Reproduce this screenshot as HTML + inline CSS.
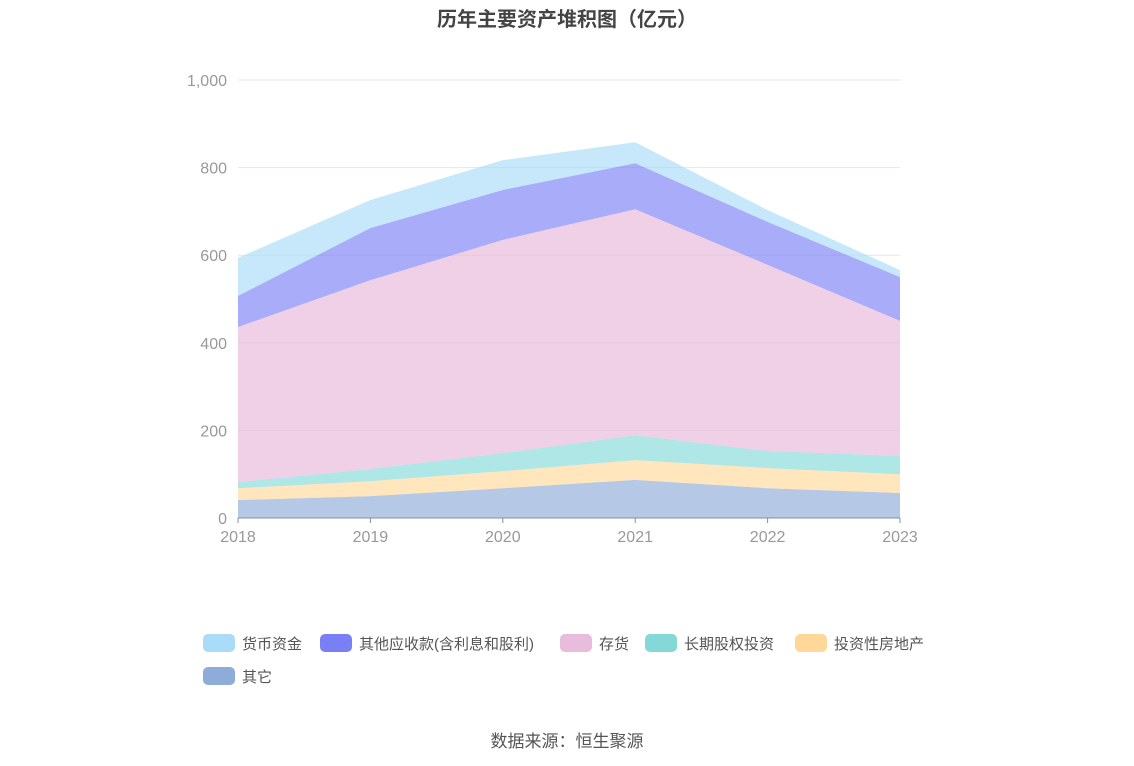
<!DOCTYPE html>
<html><head><meta charset="utf-8"><style>
body{margin:0;background:#fff;font-family:"Liberation Sans","Noto Sans CJK SC",sans-serif;}
</style></head><body>
<svg id="c" width="1134" height="766" xmlns="http://www.w3.org/2000/svg" style="display:block">
<text x="567" y="26" text-anchor="middle" font-size="20" font-weight="bold" fill="#444" font-family="Liberation Sans, Noto Sans CJK SC, sans-serif">历年主要资产堆积图（亿元）</text>
<g id="grid"></g><g id="areas"></g><g id="axes"></g><g id="legend"></g>
<text x="567" y="747" text-anchor="middle" font-size="17" fill="#555" font-family="Liberation Sans, Noto Sans CJK SC, sans-serif">数据来源：恒生聚源</text>
</svg>
<script>
const years=["2018","2019","2020","2021","2022","2023"];
const yTicks=[0,200,400,600,800,1000];
const yTickLabels=["0","200","400","600","800","1,000"];
const seriesNames=["其它","投资性房地产","长期股权投资","存货","其他应收款(含利息和股利)","货币资金"];
const other=[41,50,68,87,68,57];
const investProp=[27,34,39,45,46,43];
const longTerm=[14,28,41,57,39,42];
const inventory=[354,431,487,516,425,308];
const otherRecv=[71,119,114,105,98,100];
const cash=[87,64,68,48,27,16];
const colors=["#8eacd9","#ffd899","#84d8d8","#e8bcdc","#7b7ff5","#a8dcf8"];
const ns="http://www.w3.org/2000/svg";
const x0=238,x1=900,y0=518,y1=80;
const X=i=>x0+i*(x1-x0)/(years.length-1);
const Y=v=>y0-v*(y0-y1)/1000;
function mk(t,a,p){const e=document.createElementNS(ns,t);for(const k in a)e.setAttribute(k,a[k]);p.appendChild(e);return e;}
const grid=document.getElementById('grid'),axes=document.getElementById('axes'),areas=document.getElementById('areas'),leg=document.getElementById('legend');
yTicks.forEach((v,i)=>{
 if(v>0){const l=mk('line',{x1:x0,x2:x1,y1:Y(v),y2:Y(v),stroke:'#e3e6f0'},grid);
 }
 const t=mk('text',{x:227,y:Y(v)+6,'text-anchor':'end','font-size':16,fill:'#999'},axes);t.textContent=yTickLabels[i];
 
});
const series=[other,investProp,longTerm,inventory,otherRecv,cash];
let base=years.map(()=>0);
series.forEach((s,k)=>{
 const top=base.map((b,i)=>b+s[i]);
 let d='M'+top.map((v,i)=>X(i)+','+Y(v)).join(' L');
 for(let i=years.length-1;i>=0;i--)d+=' L'+X(i)+','+Y(base[i]);
 const p=mk('path',{d:d+'Z',fill:colors[k],'fill-opacity':k==3?0.7:0.65,stroke:'none'},areas);
 
 base=top;
});
const ax=mk('line',{x1:x0,x2:x1,y1:y0,y2:y0,stroke:'#8090a8'},axes);

years.forEach((y,i)=>{
 const tk=mk('line',{x1:X(i),x2:X(i),y1:y0,y2:y0+5,stroke:'#8090a8'},axes);
 
 const t=mk('text',{x:X(i),y:y0+24,'text-anchor':'middle','font-size':16,fill:'#999'},axes);t.textContent=y;
 
});
const legItems=[[5,203,643],[4,320,643],[3,560,643],[2,645,643],[1,795,643],[0,203,676]];
legItems.forEach(([k,x,y])=>{
 const g=mk('g',{},leg);
 mk('rect',{x:x,y:y-9,width:32,height:18,rx:5,fill:colors[k]},g);
 const t=mk('text',{x:x+39,y:y+6,'font-size':15,fill:'#555'},g);t.textContent=seriesNames[k];
});
</script>
</body></html>
